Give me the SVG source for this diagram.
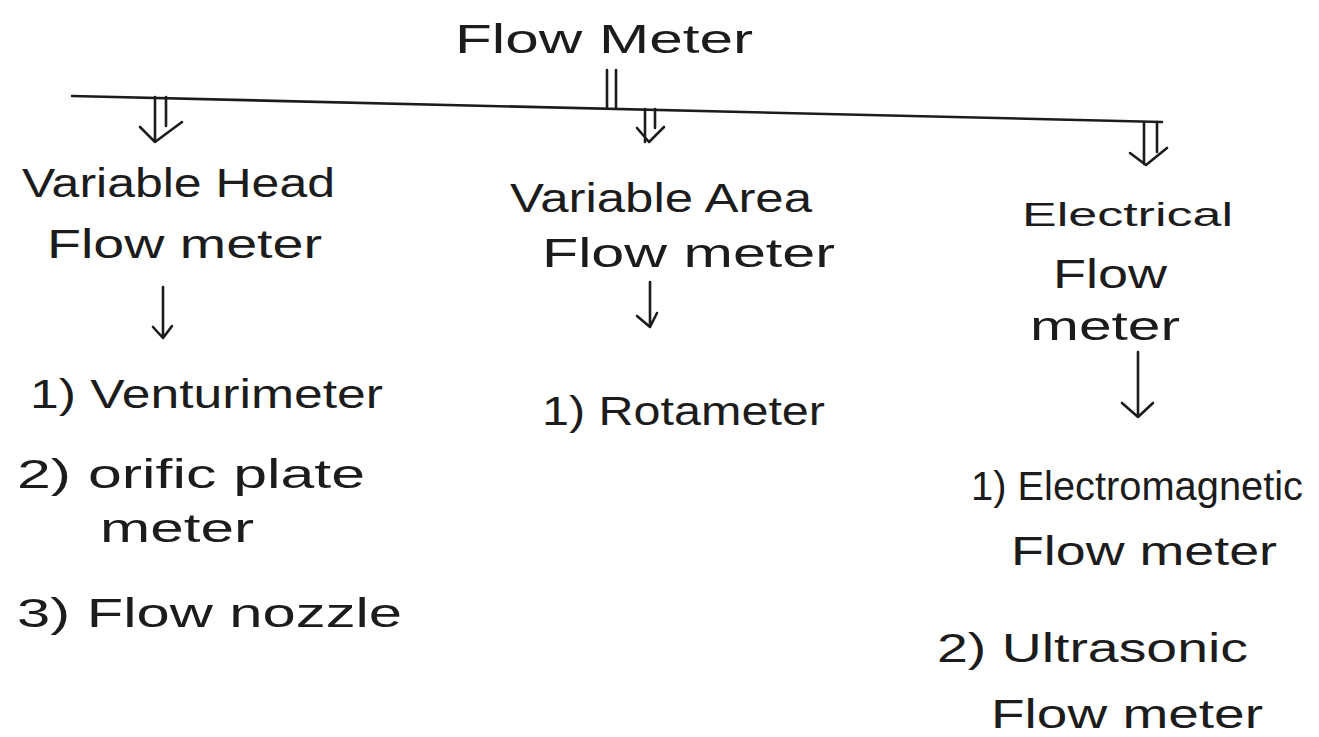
<svg xmlns="http://www.w3.org/2000/svg" width="1319" height="737" viewBox="0 0 1319 737">
<style>
text{font-family:"Liberation Sans",Arial,sans-serif;font-size:40px;fill:#1c1c1c}
.s{font-size:34px}
.c{fill:none;stroke:#1c1c1c;stroke-width:2.6;stroke-linecap:round;stroke-linejoin:round}
</style>
<rect width="1319" height="737" fill="#ffffff"/>
<g id="connectors">
<path class="c" d="M72 96 L1162 122"/>
<path class="c" d="M607 70 V108 M616 70 V108"/>
<path class="c" d="M155 97 V142 M166 97 V126 M140 127 L155 142 L182 122"/>
<path class="c" d="M645 109 V142 M655 109 V128 M637 128 L649 142 L664 127"/>
<path class="c" d="M1144 122 V164 M1157 122 V152 M1130 153 L1146 165 L1167 148"/>
<path class="c" d="M163 287 V338 M153 327 L163 338 L172 326"/>
<path class="c" d="M650 282 V327 M637 316 L650 327 L657 313"/>
<path class="c" d="M1138 352 V417 M1122 403 L1138 417 L1153 403"/>
</g>
<g id="title"><text x="455" y="53" textLength="298" lengthAdjust="spacingAndGlyphs">Flow Meter</text></g>
<g id="head">
<text x="22" y="197" textLength="313" lengthAdjust="spacingAndGlyphs">Variable Head</text>
<text x="47" y="258" textLength="275" lengthAdjust="spacingAndGlyphs">Flow meter</text>
</g>
<g id="head-types">
<text x="30" y="408" textLength="353" lengthAdjust="spacingAndGlyphs">1) Venturimeter</text>
<text x="17" y="488" textLength="348" lengthAdjust="spacingAndGlyphs">2) orific plate</text>
<text x="100" y="542" textLength="154" lengthAdjust="spacingAndGlyphs">meter</text>
<text x="17" y="627" textLength="385" lengthAdjust="spacingAndGlyphs">3) Flow nozzle</text>
</g>
<g id="area">
<text x="510" y="212" textLength="302" lengthAdjust="spacingAndGlyphs">Variable Area</text>
<text x="542" y="267" textLength="293" lengthAdjust="spacingAndGlyphs">Flow meter</text>
</g>
<g id="area-types">
<text x="542" y="425" textLength="283" lengthAdjust="spacingAndGlyphs">1) Rotameter</text>
</g>
<g id="electrical">
<text class="s" x="1022" y="226" textLength="211" lengthAdjust="spacingAndGlyphs">Electrical</text>
<text x="1053" y="288" textLength="114" lengthAdjust="spacingAndGlyphs">Flow</text>
<text x="1030" y="340" textLength="150" lengthAdjust="spacingAndGlyphs">meter</text>
</g>
<g id="electrical-types">
<text x="971" y="500" textLength="332" lengthAdjust="spacingAndGlyphs">1) Electromagnetic</text>
<text x="1011" y="565" textLength="266" lengthAdjust="spacingAndGlyphs">Flow meter</text>
<text x="937" y="662" textLength="311" lengthAdjust="spacingAndGlyphs">2) Ultrasonic</text>
<text x="991" y="728" textLength="272" lengthAdjust="spacingAndGlyphs">Flow meter</text>
</g>
</svg>
